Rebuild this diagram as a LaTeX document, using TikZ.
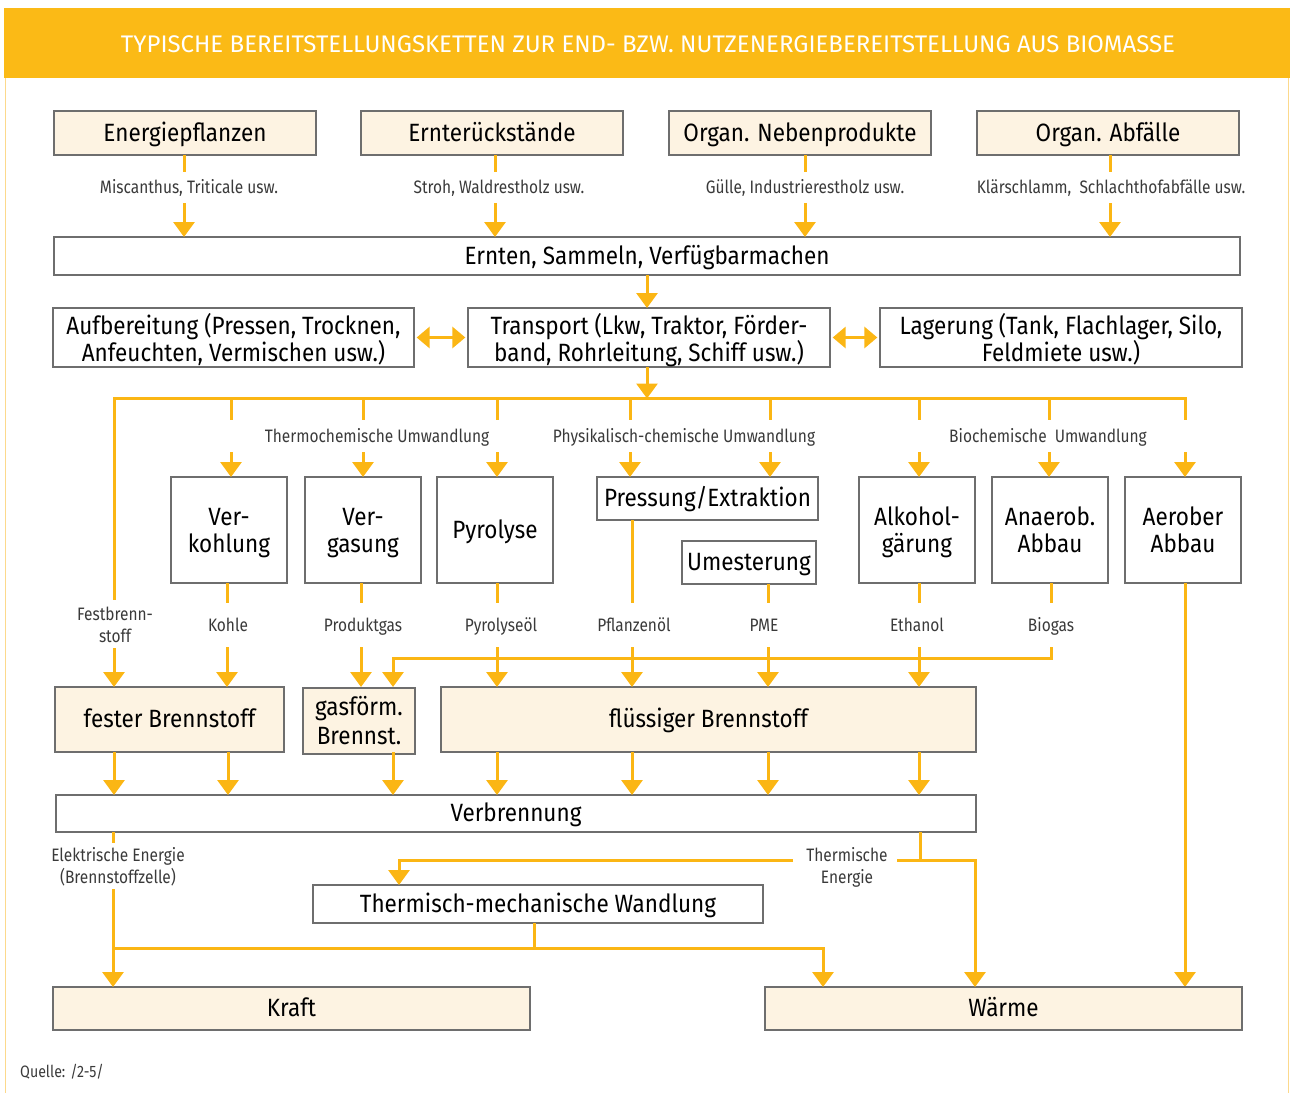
\documentclass[tikz,border=0pt]{standalone}
\usepackage{fontspec}
\setmainfont{Fira Sans}[FakeStretch=0.9]
\newfontfamily\labfont{Fira Sans}[FakeStretch=0.86]
\newfontfamily\titlefont{Fira Sans}
\usetikzlibrary{arrows.meta}
\definecolor{bar}{HTML}{FBBA16}
\definecolor{ln}{HTML}{FBB614}
\definecolor{cream}{HTML}{FDF3E2}
\definecolor{bgray}{HTML}{6E6E6E}
\definecolor{lgray}{HTML}{3A3A3A}
\definecolor{pale}{HTML}{FCD98C}
\begin{document}
\begin{tikzpicture}[x=1pt,y=-1pt,
 box/.style={draw=bgray,line width=1.3pt,fill=white,inner sep=0pt,align=center,font=\fontsize{25}{27}\selectfont,text=black},
 sbox/.style={box,text height=20pt,text depth=4pt},
 mbox/.style={box,text depth=0pt},
 cbox/.style={box,fill=cream},
 scbox/.style={sbox,fill=cream},
 lab/.style={inner sep=0pt,align=center,font=\labfont\fontsize{18}{22}\selectfont,text=lgray},
 slab/.style={lab,text height=15pt,text depth=3pt},
 con/.style={draw=ln,line width=3pt},
 arr/.style={con,-{Triangle[width=21pt,length=15pt]}},
 darr/.style={con,{Triangle[width=21pt,length=13pt]}-{Triangle[width=21pt,length=13pt]}}]
\useasboundingbox (0,0) rectangle (1290,1093);
% frame and title
\draw[pale,line width=1.5pt] (5.5,78) -- (5.5,1093);
\draw[pale,line width=1.5pt] (1288.5,78) -- (1288.5,1093);
\fill[bar] (4,8) rectangle (1290,78);
\node[font=\titlefont\fontsize{24}{26}\selectfont,text=white,inner sep=0pt] (title) at (648,44) {TYPISCHE BEREITSTELLUNGSKETTEN ZUR END- BZW. NUTZENERGIEBEREITSTELLUNG AUS BIOMASSE};
% sources
\node[scbox,minimum width=262pt,minimum height=44pt] (e1) at (185,133) {Energiepflanzen};
\node[scbox,minimum width=262pt,minimum height=44pt] (e2) at (492,133) {Ernterückstände};
\node[scbox,minimum width=262pt,minimum height=44pt] (e3) at (800,133) {Organ. Nebenprodukte};
\node[scbox,minimum width=262pt,minimum height=44pt] (e4) at (1108,133) {Organ. Abfälle};
\node[slab,minimum height=31pt] (l1) at (189,187.5) {Miscanthus, Triticale usw.};
\node[slab,minimum height=31pt] (l2) at (499,187.5) {Stroh, Waldrestholz usw.};
\node[slab,minimum height=31pt] (l3) at (805,187.5) {Gülle, Industrierestholz usw.};
\node[slab,minimum height=31pt] (l4) at (1111,187.5) {Klärschlamm,\ \ Schlachthofabfälle usw.};
\node[sbox,minimum width=1186pt,minimum height=38pt] (ernten) at (647,256) {Ernten, Sammeln, Verfügbarmachen};
\foreach \x in {184,495,805,1110}{
  \draw[con] (\x,155) -- (\x,172);
  \draw[arr] (\x,203) -- (\x,237);
}
% logistics
\node[mbox,minimum width=361pt,minimum height=59pt] (auf) at (233.5,337.5) {Aufbereitung (Pressen, Trocknen,\\Anfeuchten, Vermischen usw.)};
\node[mbox,minimum width=362pt,minimum height=59pt] (trans) at (649,337.5) {Transport (Lkw, Traktor, Förder-\\band, Rohrleitung, Schiff usw.)};
\node[mbox,minimum width=362pt,minimum height=59pt] (lag) at (1061,337.5) {Lagerung (Tank, Flachlager, Silo,\\Feldmiete usw.)};
\draw[arr] (647,275) -- (647,308);
\draw[darr,shorten <=2pt,shorten >=2pt] (auf.east) -- (trans.west);
\draw[darr,shorten <=2pt,shorten >=2pt] (trans.east) -- (lag.west);
% bus
\coordinate (busL) at (114,398);
\coordinate (busR) at (1185,398);
\draw[arr] (647,367) -- (647,398.5);
\draw[con,line join=miter] (114,420) -- (busL) -- (busR) -- (1185,420);
% group labels
\node[slab,minimum height=32pt] (tcu) at (377,436) {Thermochemische Umwandlung};
\node[slab,minimum height=32pt] (pcu) at (684,436) {Physikalisch-chemische Umwandlung};
\node[slab,minimum height=32pt] (bcu) at (1048,436) {Biochemische\ \ Umwandlung};
% conversion boxes
\node[mbox,minimum width=116pt,minimum height=106pt] (verk) at (229,530) {Ver-\\kohlung};
\node[mbox,minimum width=116pt,minimum height=106pt] (verg) at (363,530) {Ver-\\gasung};
\node[sbox,minimum width=116pt,minimum height=106pt] (pyro) at (495,530) {Pyrolyse};
\node[sbox,minimum width=221pt,minimum height=43pt] (press) at (707.5,498.5) {Pressung/Extraktion};
\node[sbox,minimum width=134pt,minimum height=43pt] (umest) at (749,562.5) {Umesterung};
\node[mbox,minimum width=116pt,minimum height=106pt] (alk) at (917,530) {Alkohol-\\gärung};
\node[mbox,minimum width=116pt,minimum height=106pt] (anae) at (1050,530) {Anaerob.\\Abbau};
\node[mbox,minimum width=116pt,minimum height=106pt] (aero) at (1183,530) {Aerober\\Abbau};
\foreach \x in {231,363,497,630,770,919,1049,1185}{
  \draw[con] (\x,398) -- (\x,420);
  \draw[arr] (\x,452) -- (\x,477);
}
% product labels
\node[lab,minimum height=48pt] (festlab) at (115,625) {Festbrenn-\\stoff};
\node[slab,minimum height=44pt] (kohle) at (228,625) {Kohle};
\node[slab,minimum height=44pt] (prod) at (363,625) {Produktgas};
\node[slab,minimum height=44pt] (pyol) at (501,625) {Pyrolyseöl};
\node[slab,minimum height=44pt] (pfl) at (634,625) {Pflanzenöl};
\node[slab,minimum height=44pt] (pme) at (764,625) {PME};
\node[slab,minimum height=44pt] (eth) at (917,625) {Ethanol};
\node[slab,minimum height=44pt] (biog) at (1051,625) {Biogas};
% fuel boxes
\node[scbox,minimum width=229pt,minimum height=65pt] (fest) at (169.5,719.5) {fester Brennstoff};
\node[cbox,minimum width=112pt,minimum height=66pt,font=\fontsize{25}{29}\selectfont] (gas) at (359,721) {gasförm.\\Brennst.};
\node[scbox,minimum width=535pt,minimum height=65pt] (fl) at (708.5,719.5) {flüssiger Brennstoff};
% product connectors
\draw[con] (busL) -- (114,600);
\draw[arr] (114,648) -- (114,687);
\foreach \x/\a/\b in {227/583/603,361/583/603,497/583/603,632/520/603,768/584/603,919/583/603,1051/583/603}{
  \draw[con] (\x,\a) -- (\x,\b);
}
\foreach \x in {227,361,497,632,768,919}{
  \draw[arr] (\x,647) -- (\x,687);
}
\coordinate (bgk) at (393,658);
\draw[arr,line join=miter] (1051,647) -- (1051,658) -- (bgk) -- (393,687);
\draw[arr] (1185,583) -- (1185,987);
% combustion
\node[sbox,minimum width=920pt,minimum height=37pt] (verb) at (516,813.5) {Verbrennung};
\foreach \x in {114,228,393,497,632,768,919}{
  \draw[arr] (\x,752) -- (\x,795);
}
\node[lab,minimum height=46pt] (elab) at (118,867) {Elektrische Energie\\(Brennstoffzelle)};
\node[lab,minimum width=104pt,minimum height=46pt,anchor=north] (thlab) at (847,844) {Thermische\\Energie};
\node[sbox,minimum width=450pt,minimum height=38pt] (tmw) at (538,904) {Thermisch-mechanische Wandlung};
\node[scbox,minimum width=477pt,minimum height=43pt] (kraft) at (291.5,1008.5) {Kraft};
\node[scbox,minimum width=477pt,minimum height=43pt] (waerme) at (1003.5,1008.5) {Wärme};
% outputs
\draw[con] (113,832) -- (113,843);
\draw[arr] (113,889) -- (113,987);
\coordinate (tj) at (920,860);
\draw[con] (920,832) -- (tj) -- (897,860);
\draw[arr,line join=miter] (tj) -- (975,860) -- (975,987);
\draw[arr,line join=miter] (793,860) -- (399,860) -- (399,885);
\coordinate (kj) at (534,948);
\draw[con] (534,923) -- (kj) -- (113,948);
\draw[arr,line join=miter] (kj) -- (823,948) -- (823,987);
% source
\node[lab,anchor=west,font=\labfont\fontsize{16.5}{18}\selectfont] (src) at (20,1072) {Quelle: /2-5/};
\end{tikzpicture}
\end{document}
